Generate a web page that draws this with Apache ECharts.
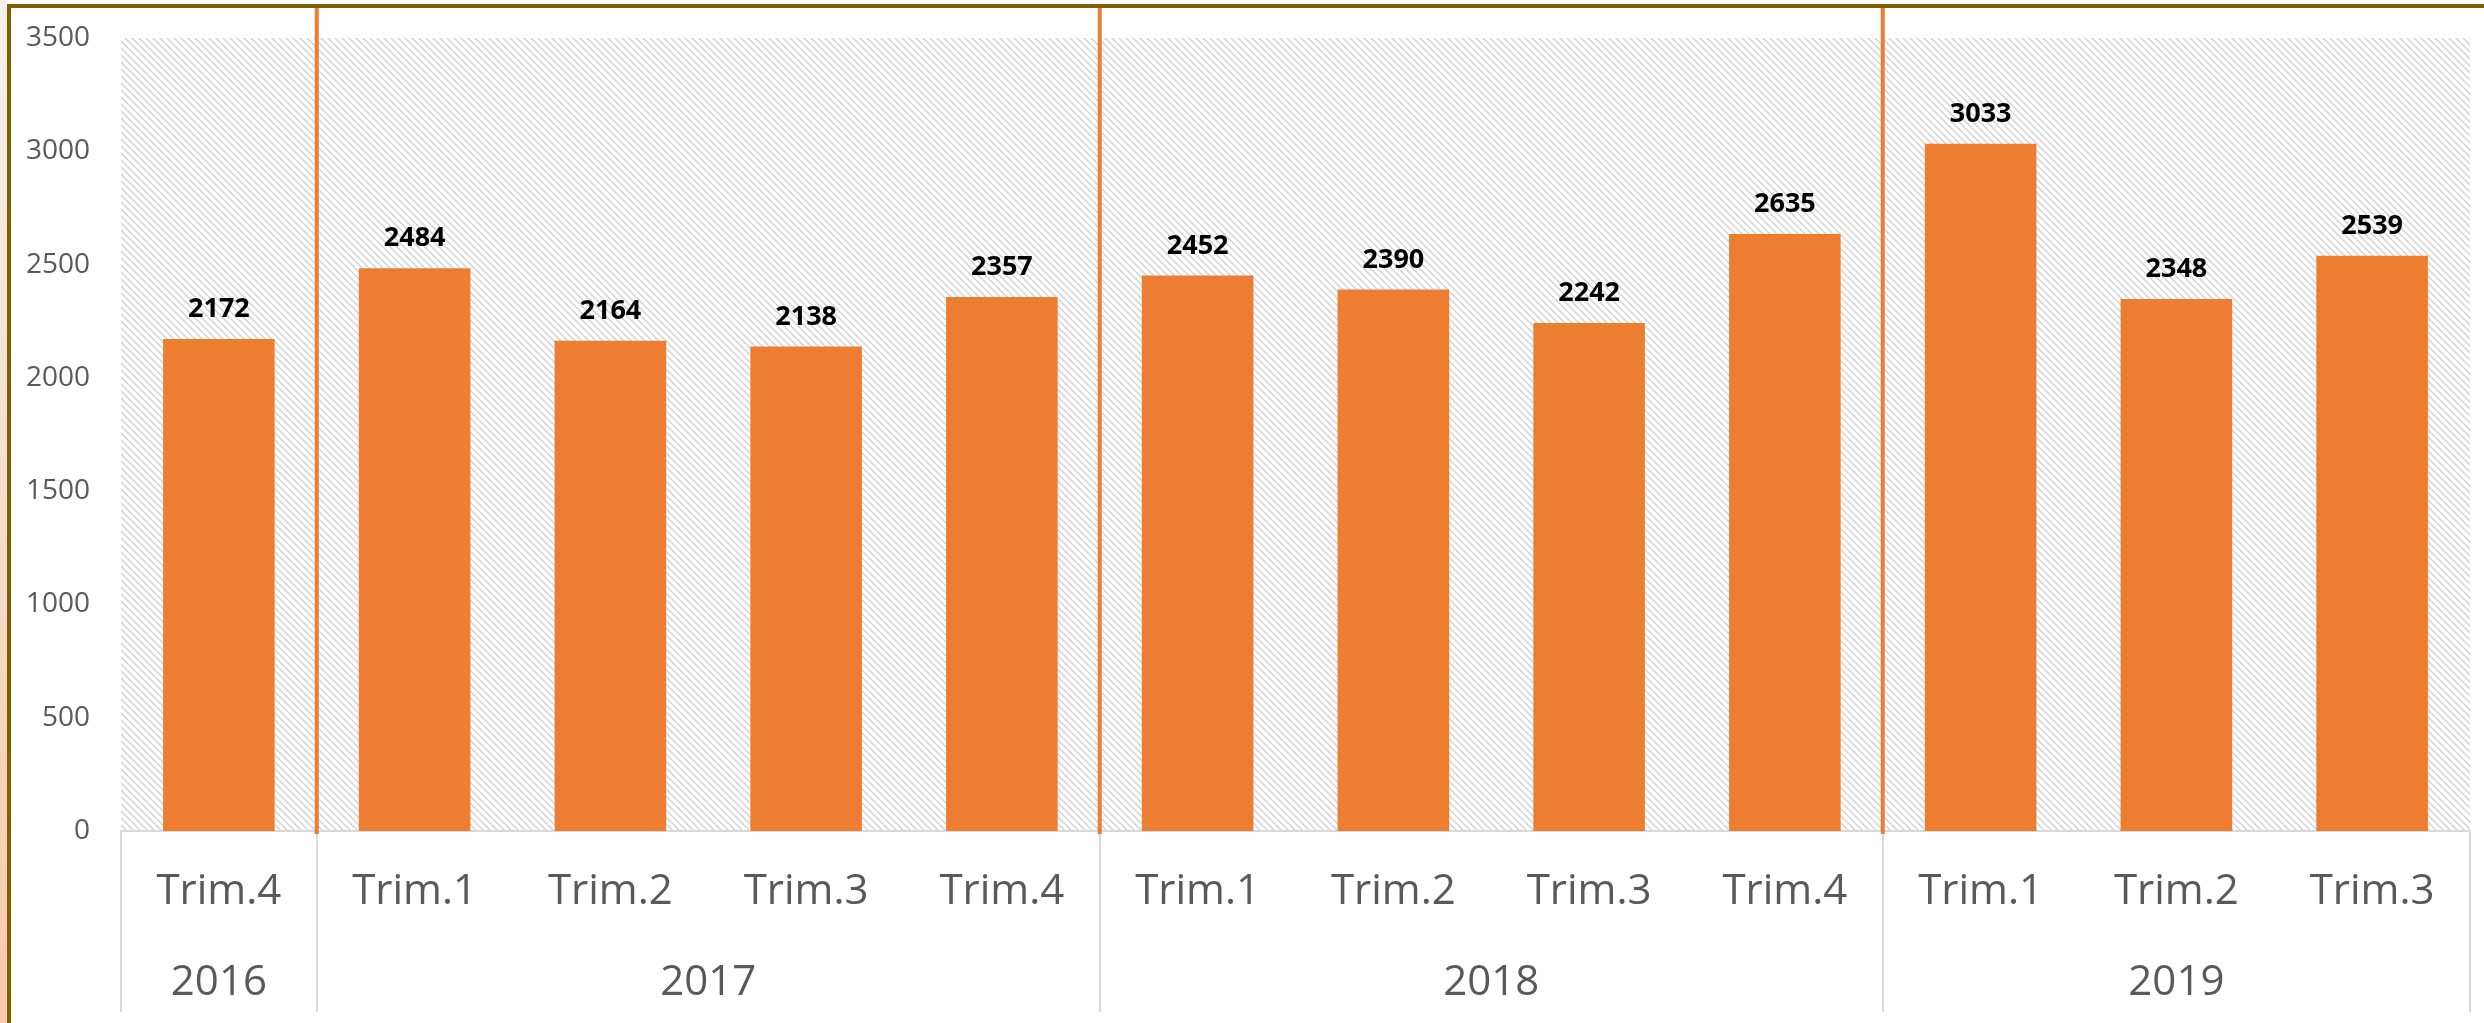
<!DOCTYPE html>
<html>
<head>
<meta charset="utf-8">
<script src="https://cdn.jsdelivr.net/npm/echarts@6/dist/echarts.min.js"></script>
<style>
  html, body { margin: 0; padding: 0; background: #fff; }
  .strip {
    position: absolute; left: 0; top: 0; width: 7px; height: 1023px;
    background: linear-gradient(#f6f1ee, #f8c9aa);
  }
  .frame {
    position: absolute; left: 7px; top: 4px; width: 2473px; height: 1015px;
    border-top: 4px solid #7f6000; border-left: 4px solid #7f6000;
  }
  #chart { width: 2473px; height: 1015px; }
</style>
</head>
<body>
<div class="strip"></div>
<div class="frame"><div id="chart"></div></div>
<script>
// ── data ─────────────────────────────────────────────
const quarters   = ['Trim.4', 'Trim.1', 'Trim.2', 'Trim.3', 'Trim.4', 'Trim.1', 'Trim.2', 'Trim.3', 'Trim.4', 'Trim.1', 'Trim.2', 'Trim.3']
const values     = [2172, 2484, 2164, 2138, 2357, 2452, 2390, 2242, 2635, 3033, 2348, 2539]
const years      = ['2016', '2017', '2018', '2019']
const yearSizes  = [1, 4, 4, 3]
const yTicks     = { min: 0, max: 3500, step: 500 }

// group boundaries / centres on a 0..n scale
const bounds  = [0]
yearSizes.forEach(n => bounds.push(bounds[bounds.length - 1] + n))
const centres = years.map((_, i) => (bounds[i] + bounds[i + 1]) / 2)
const inner   = bounds.slice(1, -1)

const BAR    = '#ed7d31'
const GREY   = '#d9d9d9'
const TEXT   = '#595959'
const FONT   = '"Open Sans", "Noto Sans", sans-serif'

// diagonal hatch for the plot background
function hatch() {
  const c = document.createElement('canvas')
  c.width = 7; c.height = 7
  const g = c.getContext('2d')
  g.fillStyle = '#fff'; g.fillRect(0, 0, 7, 7)
  g.strokeStyle = '#cfcfcf'; g.lineWidth = 1.3
  g.beginPath()
  g.moveTo(-1, -1); g.lineTo(8, 8)
  g.moveTo(-8, -1); g.lineTo(1, 8)
  g.moveTo(6, -1); g.lineTo(15, 8)
  g.stroke()
  return { image: c, repeat: 'repeat' }
}

const chart = echarts.init(document.getElementById('chart'))

chart.setOption({
  animation: false,
  grid: {
    left: 110, right: 14, top: 30, bottom: 192,
    show: true, borderWidth: 0, backgroundColor: hatch(),
  },
  xAxis: [
    {
      type: 'category', data: quarters, position: 'bottom',
      axisLine: { onZero: false, lineStyle: { color: GREY, width: 2 } },
      axisTick: { show: false },
      axisLabel: { color: TEXT, fontSize: 42, fontFamily: FONT, margin: 40, lineHeight: 42 },
    },
    {
      type: 'value', min: 0, max: quarters.length, position: 'bottom',
      axisLine: { show: false, onZero: false },
      splitLine: { show: false },
      axisTick: { show: true, customValues: bounds, length: 181, lineStyle: { color: GREY, width: 2 } },
      axisLabel: {
        customValues: centres, color: TEXT, fontSize: 42, fontFamily: FONT,
        margin: 131, lineHeight: 42,
        formatter: v => years[centres.indexOf(v)] ?? '',
      },
    },
  ],
  yAxis: {
    type: 'value', min: yTicks.min, max: yTicks.max, interval: yTicks.step,
    axisLine: { show: false },
    axisTick: { show: false },
    splitLine: { show: false },
    axisLabel: { color: TEXT, fontSize: 28, fontFamily: FONT, margin: 31, formatter: v => String(v) },
  },
  series: [
    {
      type: 'bar', data: values, barWidth: '57%',
      itemStyle: { color: BAR },
      label: {
        show: true, position: 'top', distance: 16,
        color: '#000', fontWeight: 'bold', fontSize: 27, fontFamily: FONT,
      },
    },
    {
      // orange year separators, running up to the frame
      type: 'custom', xAxisIndex: 1, yAxisIndex: 0, clip: false, silent: true,
      data: inner.map(b => [b, 0]),
      encode: { x: 0, y: 1 },
      renderItem(params, api) {
        const p = api.coord([api.value(0), 0])
        return {
          type: 'line',
          shape: { x1: p[0], y1: params.coordSys.y - 30, x2: p[0], y2: p[1] + 3 },
          style: { stroke: BAR, lineWidth: 4 },
        }
      },
    },
  ],
})
</script>
</body>
</html>
